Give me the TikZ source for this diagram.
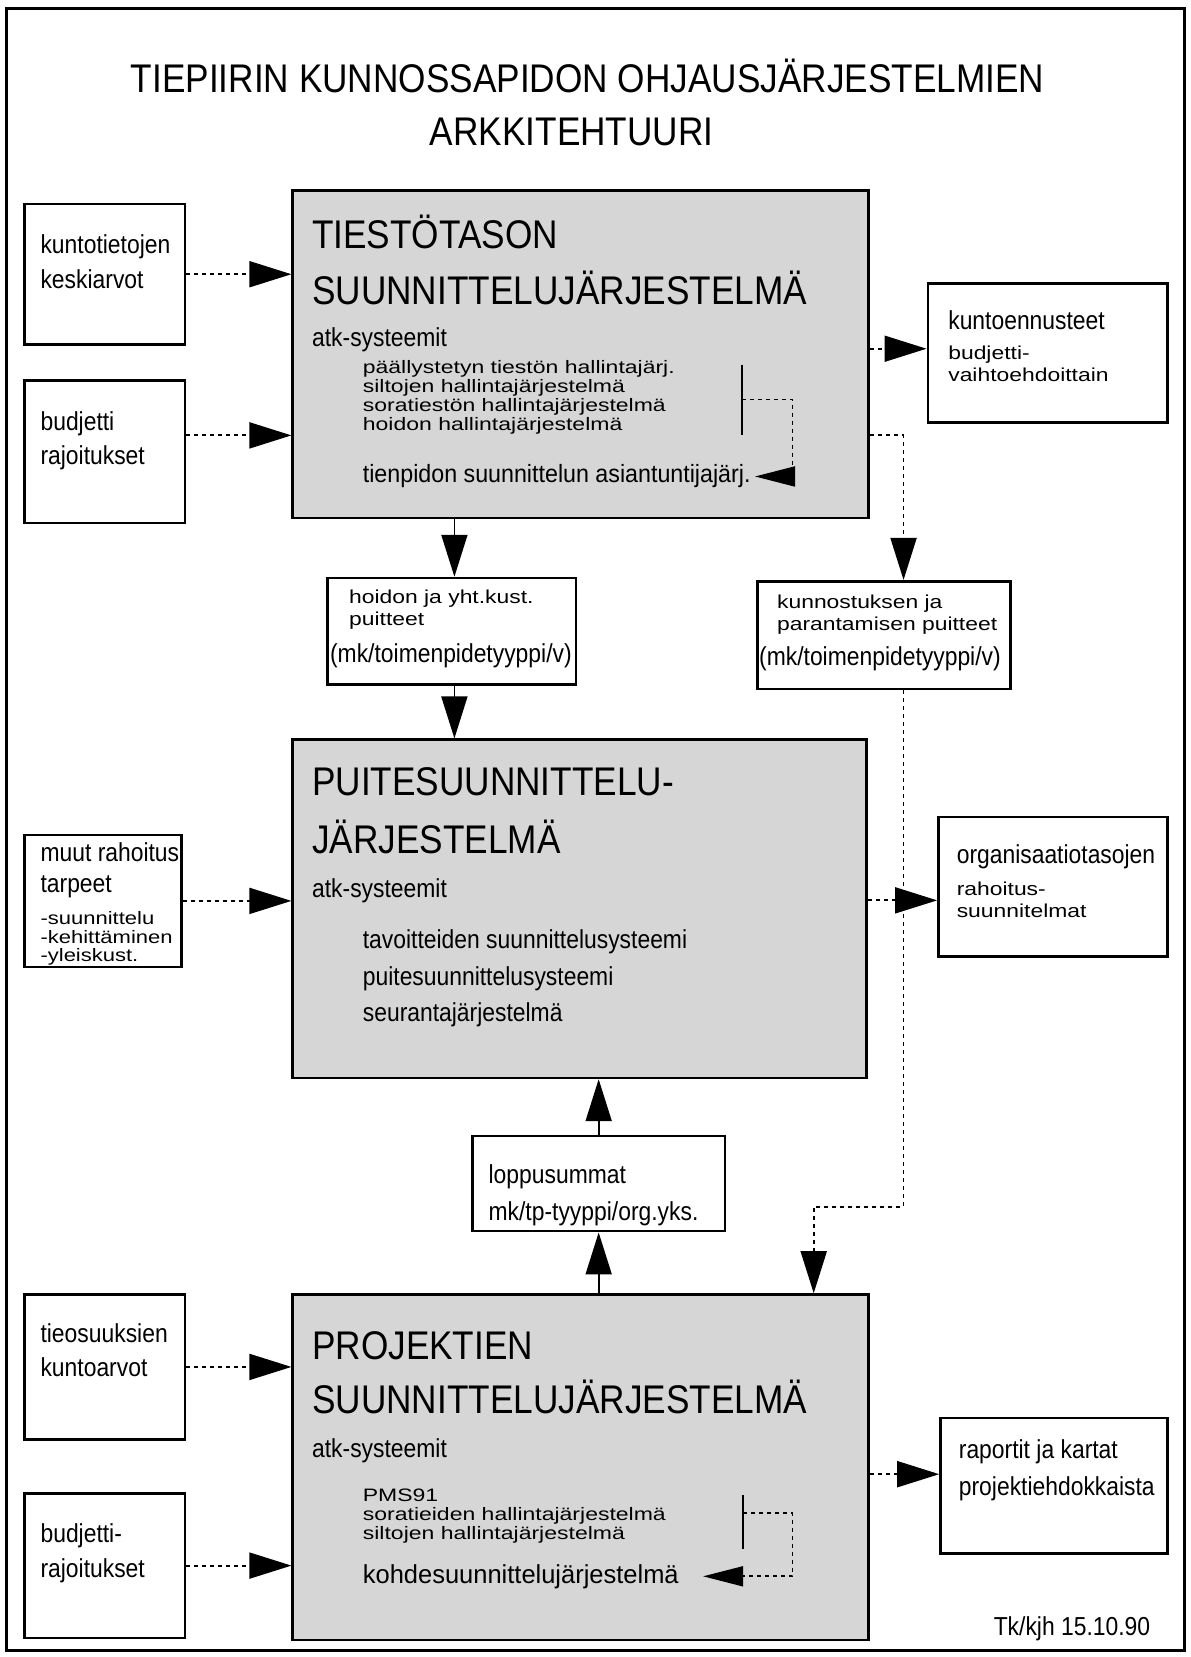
\documentclass[tikz,border=0pt]{standalone}
\usepackage{fontspec}
\setmainfont{Liberation Sans}
\usepackage{graphicx}
\usetikzlibrary{arrows.meta,fit}
\newcommand{\sq}[1]{\scalebox{0.88}[1]{#1}}
\newcommand{\tq}[1]{\scalebox{0.88}[0.72]{#1}}
\newcommand{\lsq}[1]{\scalebox{0.92}[0.72]{#1}}
\begin{document}
\begin{tikzpicture}[x=0.5284pt,y=-0.5284pt,
  box/.style={draw,line width=1.3pt,inner sep=0pt},
  mainbox/.style={box,fill=black!16},
  txt/.style={anchor=base west,inner sep=0pt,font=\fontsize{13}{13}\selectfont},
  lst/.style={anchor=base west,inner sep=0pt,font=\fontsize{12.5}{12.5}\selectfont},
  big/.style={anchor=base west,inner sep=0pt,font=\fontsize{20}{20}\selectfont},
  dotl/.style={line width=0.9pt,dash pattern=on 2pt off 2pt},
  solidl/.style={line width=0.9pt},
  bigtip/.style={-{Triangle[length=21pt,width=13pt]}},
  smalltip/.style={-{Triangle[length=20pt,width=10pt]}},
]
\useasboundingbox (0,0) rectangle (1127,1568);
\draw[line width=1.2pt] (6,8) rectangle (1121,1562);

% title
\node[big,anchor=base] (t1) at (556,88) {\sq{TIEPIIRIN KUNNOSSAPIDON OHJAUSJÄRJESTELMIEN}};
\node[big,anchor=base] (t2) at (541,138) {\sq{ARKKITEHTUURI}};

% boxes
\node[box,fit={(23,193)(175,326)}] (kt) {};
\node[box,fit={(23,360)(175,495)}] (bud1) {};
\node[mainbox,fit={(277,180)(822,490)}] (m1) {};
\node[box,fit={(878,268)(1105,400)}] (ke) {};
\node[box,fit={(310,547)(545,648)}] (hj) {};
\node[box,fit={(717,550)(956,652)}] (kp) {};
\node[box,fit={(23,790)(172,915)}] (mr) {};
\node[mainbox,fit={(277,700)(820,1020)}] (m2) {};
\node[box,fit={(888,773)(1105,905)}] (org) {};
\node[box,fit={(447,1075)(686,1165)}] (lop) {};
\node[box,fit={(23,1225)(175,1362)}] (tie) {};
\node[box,fit={(23,1413)(175,1550)}] (bud3) {};
\node[mainbox,fit={(277,1225)(822,1552)}] (m3) {};
\node[box,fit={(890,1342)(1105,1470)}] (rap) {};

% texts of side boxes
\node[txt] (kt1) at (38,240) {\sq{kuntotietojen}};
\node[txt] (kt2) at (38,273) {\sq{keskiarvot}};
\node[txt] (bu1) at (38,407) {\sq{budjetti}};
\node[txt] (bu2) at (38,440) {\sq{rajoitukset}};
\node[txt] (ke1) at (897,312) {\sq{kuntoennusteet}};
\node[txt] (ke2) at (897,340) {\tq{budjetti-}};
\node[txt] (ke3) at (897,361) {\tq{vaihtoehdoittain}};
\node[txt] (hj1) at (330,571) {\tq{hoidon ja yht.kust.}};
\node[txt] (hj2) at (330,592) {\tq{puitteet}};
\node[txt] (hj3) at (312,627) {\sq{(mk/toimenpidetyyppi/v)}};
\node[txt] (kp1) at (735,576) {\tq{kunnostuksen ja}};
\node[txt] (kp2) at (735,597) {\tq{parantamisen puitteet}};
\node[txt] (kp3) at (718,630) {\sq{(mk/toimenpidetyyppi/v)}};
\node[txt] (mr1) at (38,815) {\sq{muut rahoitus}};
\node[txt] (mr2) at (38,845) {\sq{tarpeet}};
\node[lst] (mr3) at (38,875) {\tq{-suunnittelu}};
\node[lst] (mr4) at (38,893) {\tq{-kehittäminen}};
\node[lst] (mr5) at (38,910) {\tq{-yleiskust.}};
\node[txt] (or1) at (905,817) {\sq{organisaatiotasojen}};
\node[txt] (or2) at (905,847) {\tq{rahoitus-}};
\node[txt] (or3) at (905,868) {\tq{suunnitelmat}};
\node[txt] (lo1) at (462,1120) {\sq{loppusummat}};
\node[txt] (lo2) at (462,1155) {\sq{mk/tp-tyyppi/org.yks.}};
\node[txt] (ti1) at (38,1270) {\sq{tieosuuksien}};
\node[txt] (ti2) at (38,1303) {\sq{kuntoarvot}};
\node[txt] (bb1) at (38,1460) {\sq{budjetti-}};
\node[txt] (bb2) at (38,1493) {\sq{rajoitukset}};
\node[txt] (ra1) at (907,1380) {\sq{raportit ja kartat}};
\node[txt] (ra2) at (907,1415) {\sq{projektiehdokkaista}};
\node[txt] (foot) at (940,1548) {\sq{Tk/kjh 15.10.90}};

% main box 1
\node[big] (m1a) at (295,235) {\sq{TIESTÖTASON}};
\node[big] (m1b) at (295,288) {\sq{SUUNNITTELUJÄRJESTELMÄ}};
\node[txt] (m1c) at (295,328) {\sq{atk-systeemit}};
\node[lst] (m1d) at (343,353) {\lsq{päällystetyn tiestön hallintajärj.}};
\node[lst] (m1e) at (343,371) {\lsq{siltojen hallintajärjestelmä}};
\node[lst] (m1f) at (343,389) {\lsq{soratiestön hallintajärjestelmä}};
\node[lst] (m1g) at (343,407) {\lsq{hoidon hallintajärjestelmä}};
\node[lst] (tp) at (343,457) {\scalebox{0.93}[1]{tienpidon suunnittelun asiantuntijajärj.}};

% main box 2
\node[big] (m2a) at (295,753) {\sq{PUITESUUNNITTELU-}};
\node[big] (m2b) at (295,808) {\sq{JÄRJESTELMÄ}};
\node[txt] (m2c) at (295,849) {\sq{atk-systeemit}};
\node[txt] (m2d) at (343,898) {\sq{tavoitteiden suunnittelusysteemi}};
\node[txt] (m2e) at (343,933) {\sq{puitesuunnittelusysteemi}};
\node[txt] (m2f) at (343,967) {\sq{seurantajärjestelmä}};

% main box 3
\node[big] (m3a) at (295,1286) {\sq{PROJEKTIEN}};
\node[big] (m3b) at (295,1338) {\sq{SUUNNITTELUJÄRJESTELMÄ}};
\node[txt] (m3c) at (295,1379) {\sq{atk-systeemit}};
\node[lst] (m3d) at (343,1421) {\lsq{PMS91}};
\node[lst] (m3e) at (343,1439) {\lsq{soratieiden hallintajärjestelmä}};
\node[lst] (m3f) at (343,1457) {\lsq{siltojen hallintajärjestelmä}};
\node[txt] (kd) at (343,1498) {\scalebox{0.98}[1]{kohdesuunnittelujärjestelmä}};

% internal brackets and loops
\draw[solidl] (702,345) -- (702,412);
\coordinate (br1) at (702,378);
\draw[dotl,smalltip] (br1) -| (750,0 |- tp.east) -- ([xshift=2pt]tp.east);
\draw[solidl] (703,1415) -- (703,1466);
\coordinate (br3) at (703,1432);
\draw[dotl,smalltip] (br3) -| (750,0 |- kd.east) -- ([xshift=12pt]kd.east);

% connectors
\draw[dotl,bigtip] (kt.east) -- (m1.west |- kt.east);
\draw[dotl,bigtip] (bud1.east |- 0,412) -- (m1.west |- 0,412);
\draw[dotl,bigtip] (m1.east |- 0,330) -- (ke.west |- 0,330);
\coordinate (c1) at (855,412);
\draw[dotl,bigtip] (m1.east |- c1) -- (c1) -- (c1 |- kp.north);
\draw[solidl,bigtip] (m1.south -| 430,0) -- (hj.north -| 430,0);
\draw[solidl,bigtip] (hj.south -| 430,0) -- (m2.north -| 430,0);
\coordinate (c2) at (855,1142);
\coordinate (c3) at (770,1142);
\draw[dotl,bigtip] (kp.south -| c2) -- (c2) -- (c3) -- (m3.north -| c3);
\draw[dotl,bigtip] (mr.east) -- (m2.west |- mr.east);
\draw[dotl,bigtip] (m2.east |- 0,852) -- (org.west |- 0,852);
\draw[solidl,bigtip] (lop.north) -- (m2.south -| lop.north);
\draw[solidl,bigtip] (m3.north -| lop.south) -- (lop.south);
\draw[dotl,bigtip] (tie.east) -- (m3.west |- tie.east);
\draw[dotl,bigtip] (bud3.east) -- (m3.west |- bud3.east);
\draw[dotl,bigtip] (m3.east |- 0,1395) -- (rap.west |- 0,1395);
\end{tikzpicture}
\end{document}
